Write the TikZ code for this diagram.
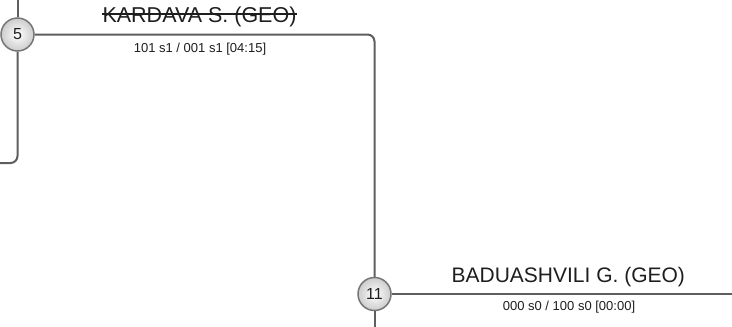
\documentclass[tikz,border=0pt]{standalone}
\usepackage{fontspec}
\setmainfont{Liberation Sans}
\definecolor{linegray}{HTML}{5E5E5E}
\definecolor{txt}{HTML}{1E1E1E}
\begin{document}
\begin{tikzpicture}[x=1pt,y=-1pt,
  conn/.style={draw=linegray,line width=2pt,rounded corners=7pt},
  seedcircle/.style={circle,draw=linegray!85,line width=1.5pt,minimum size=33pt,inner sep=0pt,
    inner color=white,outer color=black!20,text=txt,font=\fontsize{16}{18}\selectfont},
  playerlabel/.style={inner sep=0pt,anchor=base,text=txt,font=\fontsize{21.5}{25}\selectfont},
  scorelabel/.style={inner sep=0pt,anchor=base,text=txt,font=\fontsize{13}{15}\selectfont}]
\useasboundingbox (0,0) rectangle (732,327);
\node[seedcircle] (c5) at (17.5,34.5) {5};
\node[seedcircle] (c11) at (374.5,294) {11};
\coordinate (top5) at (17.5,0);
\coordinate (left5) at (0,163);
\coordinate (bot11) at (374.5,327);
\coordinate (right11) at (732,294);
\draw[conn] (c5.north) -- (top5);
\draw[conn] (c5.south) |- (left5);
\draw[conn] (c5.east) -| (c11.north);
\draw[conn] (c11.south) -- (bot11);
\draw[conn] (c11.east) -- (right11);
\node[playerlabel] (n1) at (199.5,22.7) {KARDAVA S. (GEO)};
\draw[txt,line width=1.4pt] (n1.west |- 0,13.8) -- (n1.east |- 0,13.8);
\node[scorelabel] (s1) at (200,52) {101 s1 / 001 s1 [04:15]};
\node[playerlabel,font=\fontsize{21}{25}\selectfont] (n2) at (568.3,282) {BADUASHVILI G. (GEO)};
\node[scorelabel] (s2) at (569,310.5) {000 s0 / 100 s0 [00:00]};
\end{tikzpicture}
\end{document}
